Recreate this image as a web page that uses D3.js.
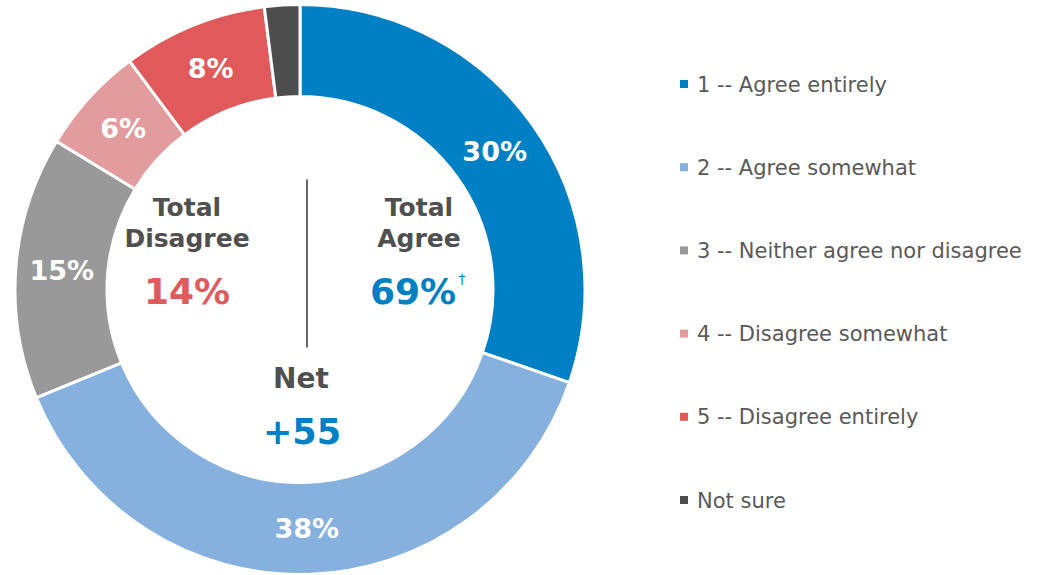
<!DOCTYPE html>
<html>
<head>
<meta charset="utf-8">
<script src="https://cdn.jsdelivr.net/npm/d3@7"></script>
<style>
  body { margin: 0; background: #fff; }
  svg text { font-family: "DejaVu Sans", Verdana, sans-serif; }
</style>
</head>
<body>
<script>
// data
var categories = ["1 -- Agree entirely", "2 -- Agree somewhat", "3 -- Neither agree nor disagree",
                  "4 -- Disagree somewhat", "5 -- Disagree entirely", "Not sure"];
var values = [30.3, 38.5, 14.9, 6.1, 8.2, 2.0];
var sliceLabels = ["30%", "38%", "15%", "6%", "8%", ""];
var colors = ["#0080c4", "#86b1de", "#999999", "#e39c9e", "#e05a5c", "#4d4d4d"];

var totalAgree = "69%", totalDisagree = "14%", net = "+55";

var width = 1040, height = 575;
var cx = 300, cy = 289.5;
var outerR = 285, innerR = 193;

var svg = d3.select("body").append("svg")
  .attr("width", width)
  .attr("height", height);

var pie = d3.pie().sort(null).value(function(d) { return d.value; });
var arc = d3.arc().innerRadius(innerR).outerRadius(outerR);

var data = categories.map(function(c, i) {
  return {name: c, value: values[i], label: sliceLabels[i], color: colors[i]};
});

var g = svg.append("g")
  .attr("transform", "translate(" + cx + "," + cy + ")");

var slices = g.selectAll(".slice")
  .data(pie(data))
  .enter().append("g")
  .attr("class", "slice");

slices.append("path")
  .attr("d", arc)
  .attr("fill", function(d) { return d.data.color; })
  .attr("stroke", "#fff")
  .attr("stroke-width", 3);

slices.append("text")
  .attr("transform", function(d) { return "translate(" + arc.centroid(d) + ")"; })
  .attr("dy", "0.36em")
  .attr("text-anchor", "middle")
  .style("font-size", "27px")
  .style("font-weight", "bold")
  .style("fill", "#fff")
  .text(function(d) { return d.data.label; });

// center texts
var center = g.append("g");

center.append("line")
  .attr("x1", 7).attr("x2", 7)
  .attr("y1", -110).attr("y2", 58)
  .attr("stroke", "#666")
  .attr("stroke-width", 2);

var tDis = center.append("text")
  .attr("text-anchor", "middle")
  .style("font-size", "25px")
  .style("font-weight", "bold")
  .style("fill", "#505050");
tDis.append("tspan").attr("x", -113).attr("y", -74).text("Total");
tDis.append("tspan").attr("x", -113).attr("y", -43).text("Disagree");

center.append("text")
  .attr("x", -113).attr("y", 14)
  .attr("text-anchor", "middle")
  .style("font-size", "36px")
  .style("font-weight", "bold")
  .style("fill", "#e05a5c")
  .text(totalDisagree);

var tAg = center.append("text")
  .attr("text-anchor", "middle")
  .style("font-size", "25px")
  .style("font-weight", "bold")
  .style("fill", "#505050");
tAg.append("tspan").attr("x", 119).attr("y", -74).text("Total");
tAg.append("tspan").attr("x", 119).attr("y", -43).text("Agree");

center.append("text")
  .attr("x", 113).attr("y", 14)
  .attr("text-anchor", "middle")
  .style("font-size", "36px")
  .style("font-weight", "bold")
  .style("fill", "#0080c4")
  .text(totalAgree);

center.append("text")
  .attr("x", 162).attr("y", -6)
  .attr("text-anchor", "middle")
  .style("font-size", "14px")
  .style("fill", "#0080c4")
  .text("\u2020");

center.append("text")
  .attr("x", 1).attr("y", 98)
  .attr("text-anchor", "middle")
  .style("font-size", "28px")
  .style("font-weight", "bold")
  .style("fill", "#505050")
  .text("Net");

center.append("text")
  .attr("x", 2).attr("y", 154)
  .attr("text-anchor", "middle")
  .style("font-size", "35px")
  .style("font-weight", "bold")
  .style("fill", "#0080c4")
  .text(net);

// legend
var legendY = d3.scalePoint()
  .domain(categories)
  .range([84, 500]);

var legend = svg.selectAll(".legend")
  .data(data)
  .enter().append("g")
  .attr("class", "legend")
  .attr("transform", function(d) { return "translate(680," + legendY(d.name) + ")"; });

legend.append("rect")
  .attr("x", 0).attr("y", -4)
  .attr("width", 8).attr("height", 8)
  .attr("fill", function(d) { return d.color; });

legend.append("text")
  .attr("x", 17)
  .attr("dy", "0.36em")
  .style("font-size", "21px")
  .style("fill", "#595959")
  .text(function(d) { return d.name; });
</script>
</body>
</html>
